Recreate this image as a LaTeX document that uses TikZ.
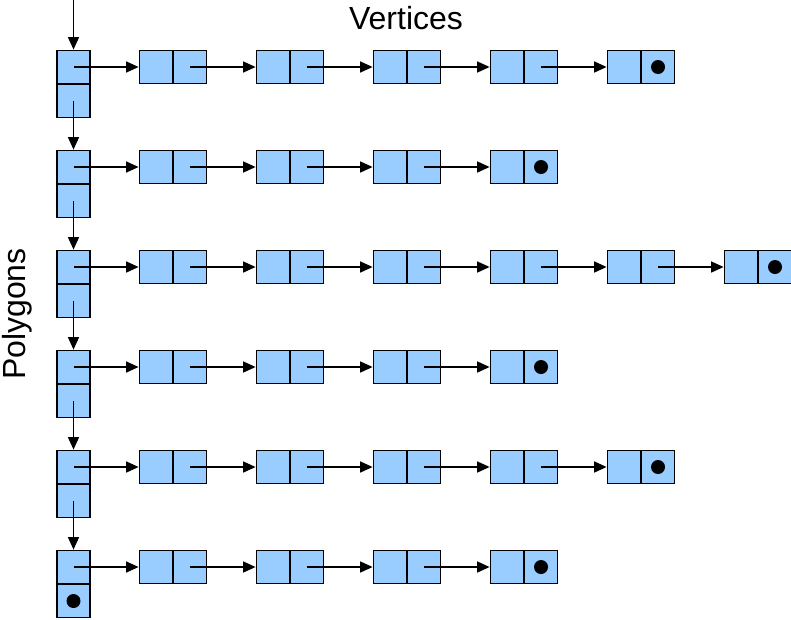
\documentclass[tikz,border=0pt]{standalone}
\usepackage{fontspec}
\setmainfont{Liberation Sans}
\usetikzlibrary{arrows.meta}
\definecolor{cellblue}{RGB}{153,204,255}
\tikzset{
  cell/.style={draw,fill=cellblue,line width=1.8pt,minimum size=33pt,inner sep=0pt},
  link/.style={line width=1.5pt,-{Triangle[length=12.5pt,width=11pt]}},
  nilmark/.style={fill=black,circle,inner sep=0pt,minimum size=14pt}
}

\begin{document}
\begin{tikzpicture}[x=1pt,y=-1pt]
    \useasboundingbox (0,0) rectangle (791,619);
    \node[anchor=base] (vtitle) at (406,29) {\fontsize{32}{38}\selectfont Vertices};
    \node[anchor=base,rotate=90] (ptitle) at (25,314) {\fontsize{32}{38}\selectfont Polygons};
    \foreach \r/\n in {1/5,2/4,3/6,4/4,5/5,6/4} {
      \pgfmathsetmacro\y{67+100*(\r-1)}
      \node[cell] (p\r-t) at (73.5,\y) {};
      \node[cell] (p\r-b) at (73.5,\y+34) {};
      \foreach \k in {1,...,\n} {
        \node[cell] (v\r-\k-l) at (156+117*\k-117,\y) {};
        \node[cell] (v\r-\k-r) at (190+117*\k-117,\y) {};
      }
      \draw[link] (p\r-t.center) -- (v\r-1-l.west);
      \pgfmathtruncatemacro\m{\n-1}
      \foreach \k in {1,...,\m} {
        \pgfmathtruncatemacro\j{\k+1}
        \draw[link] (v\r-\k-r.center) -- (v\r-\j-l.west);
      }
      \node[nilmark] (nil\r) at (v\r-\n-r) {};
    }
    % list of polygons
    \coordinate (head) at (73.5,0);
    \draw[link] (head) -- (p1-t.north);
    \foreach \r in {1,...,5} {
      \pgfmathtruncatemacro\j{\r+1}
      \draw[link] (p\r-b.center) -- (p\j-t.north);
    }
    \node[nilmark] (nilp) at (p6-b) {};
\end{tikzpicture}
\end{document}
